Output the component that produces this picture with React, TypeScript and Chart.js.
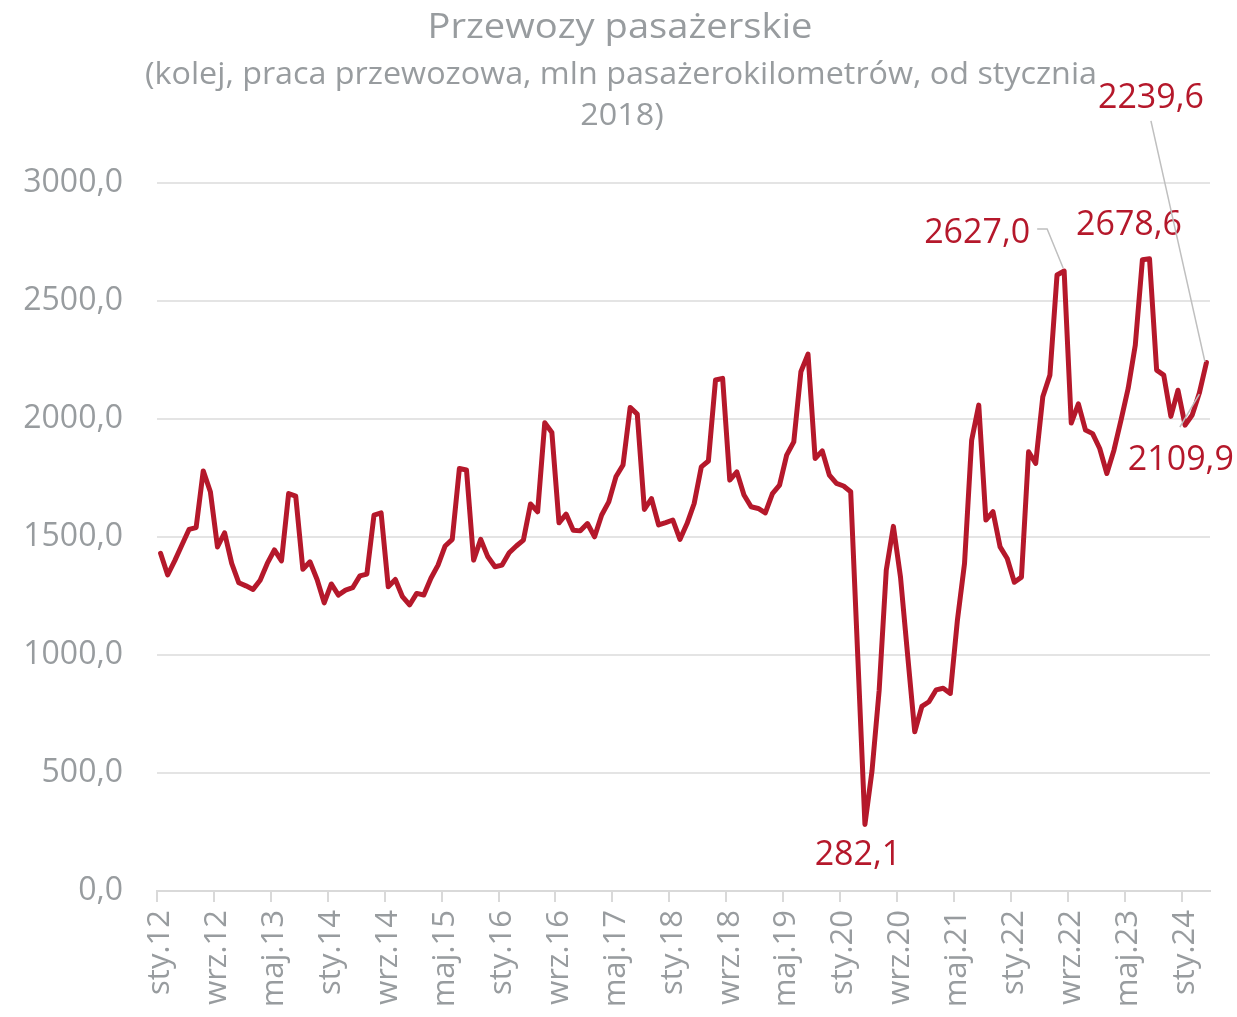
import React, { useEffect, useRef } from "react";
import { Chart, registerables } from "chart.js";

Chart.register(...registerables);

// ---- data ----
const MONTH_ABBR = ["sty", "lut", "mar", "kwi", "maj", "cze", "lip", "sie", "wrz", "paź", "lis", "gru"];
const START_YEAR = 2012;

const v2012 = [1431, 1339, 1400, 1466, 1532, 1540, 1780, 1692, 1458, 1518, 1388, 1306];
const v2013 = [1293, 1278, 1317, 1388, 1445, 1399, 1684, 1673, 1363, 1395, 1320, 1221];
const v2014 = [1301, 1254, 1275, 1285, 1335, 1343, 1593, 1602, 1289, 1320, 1247, 1212];
const v2015 = [1261, 1254, 1325, 1381, 1462, 1490, 1790, 1784, 1402, 1490, 1416, 1374];
const v2016 = [1381, 1433, 1462, 1487, 1640, 1607, 1984, 1943, 1560, 1597, 1529, 1526];
const v2017 = [1557, 1501, 1593, 1649, 1755, 1805, 2049, 2021, 1617, 1663, 1551, 1561];
const v2018 = [1572, 1490, 1557, 1642, 1797, 1822, 2165, 2172, 1741, 1776, 1678, 1628];
const v2019 = [1621, 1602, 1684, 1720, 1847, 1903, 2200, 2275, 1833, 1865, 1762, 1727];
const v2020 = [1716, 1692, 990, 282.1, 510, 850, 1360, 1545, 1330, 1000, 675, 782];
const v2021 = [802, 852, 859, 837, 1148, 1388, 1910, 2059, 1572, 1607, 1458, 1409];
const v2022 = [1308, 1330, 1861, 1812, 2094, 2186, 2610, 2627.0, 1983, 2064, 1953, 1938];
const v2023 = [1875, 1769, 1868, 1996, 2130, 2313, 2675, 2678.6, 2207, 2186, 2011, 2122];
const v2024 = [1974, 2017, 2109.9, 2239.6];

const VALUES = [
  ...v2012, ...v2013, ...v2014, ...v2015, ...v2016, ...v2017, ...v2018,
  ...v2019, ...v2020, ...v2021, ...v2022, ...v2023, ...v2024,
];

const LABELS = VALUES.map((_, i) => {
  const y = START_YEAR + Math.floor(i / 12);
  return `${MONTH_ABBR[i % 12]}.${String(y).slice(2)}`;
});

const LABEL_EVERY = 8;
const Y_TICKS = [0, 500, 1000, 1500, 2000, 2500, 3000];

const TITLE = "Przewozy pasażerskie";
const SUBTITLE_1 = "(kolej, praca przewozowa, mln pasażerokilometrów, od stycznia";
const SUBTITLE_2 = "2018)";

// annotated points (indices into VALUES)
const ANNOTATED = [99, 127, 139, 146, 147];

// ---- styles ----
const RED = "#b5182b";
const GRAY_TEXT = "#989c9f";
const GRID = "#e4e4e4";
const AXIS = "#d9d9d9";
const LEADER = "#bfbfbf";
const FONT = '"Open Sans"';

// label placement relative to the point (styling only)
const ANNOT_STYLE: Record<number, { dx: number; dy: number; leader?: number[][] }> = {
  99: { dx: -7, dy: 28.5 },
  127: { dx: -87, dy: -40, leader: [[-27, -42], [-17, -42], [-1, -3]] },
  139: { dx: -20.5, dy: -36 },
  146: { dx: -18.5, dy: 65, leader: [[-19.5, 34], [0, 1]] },
  147: { dx: -55.5, dy: -266, leader: [[-55.5, -241.5], [-1.5, -0.5]] },
};

const fmt = (v: number) => v.toFixed(1).replace(".", ",");

function drawFitted(ctx: CanvasRenderingContext2D, text: string, cx: number, baseline: number, size: number, sx: number, color: string) {
  ctx.save();
  ctx.font = `${size}px ${FONT}`;
  ctx.translate(cx, baseline);
  ctx.scale(sx, 1);
  ctx.textAlign = "center";
  ctx.textBaseline = "alphabetic";
  ctx.fillStyle = color;
  ctx.fillText(text, 0, 0);
  ctx.restore();
}

const textPlugin = {
  id: "customTexts",
  afterDraw(chart: any) {
    const ctx: CanvasRenderingContext2D = chart.ctx;
    ctx.save();
    // title
    ctx.font = `34px ${FONT}`;
    const tw = ctx.measureText(TITLE).width;
    drawFitted(ctx, TITLE, 620, 38, 34, 385 / tw, GRAY_TEXT);
    ctx.font = `31px ${FONT}`;
    const sw = ctx.measureText(SUBTITLE_1).width;
    const ssx = 952 / sw;
    drawFitted(ctx, SUBTITLE_1, 621, 84, 31, ssx, GRAY_TEXT);
    drawFitted(ctx, SUBTITLE_2, 622, 125, 31, ssx, GRAY_TEXT);

    // data labels
    const meta = chart.getDatasetMeta(0);
    ANNOTATED.forEach((idx) => {
      const pt = meta.data[idx];
      const st = ANNOT_STYLE[idx];
      if (!pt || !st) return;
      const px = pt.x, py = pt.y;
      if (st.leader) {
        ctx.save();
        ctx.strokeStyle = LEADER;
        ctx.lineWidth = 1.5;
        ctx.beginPath();
        st.leader.forEach(([lx, ly], k) => {
          if (k === 0) ctx.moveTo(px + lx, py + ly);
          else ctx.lineTo(px + lx, py + ly);
        });
        ctx.stroke();
        ctx.restore();
      }
      ctx.save();
      ctx.font = `34px ${FONT}`;
      ctx.fillStyle = RED;
      ctx.textAlign = "center";
      ctx.textBaseline = "alphabetic";
      ctx.fillText(fmt(VALUES[idx]), px + st.dx, py + st.dy + 12);
      ctx.restore();
    });
    ctx.restore();
  },
};

export default function App() {
  const ref = useRef<HTMLCanvasElement>(null);

  useEffect(() => {
    if (!ref.current) return;
    const chart = new Chart(ref.current, {
      type: "line",
      data: {
        labels: LABELS,
        datasets: [
          {
            data: VALUES,
            borderColor: RED,
            backgroundColor: RED,
            borderWidth: 5,
            pointRadius: 0,
            tension: 0,
            borderJoinStyle: "round",
            borderCapStyle: "round",
            fill: false,
          },
        ],
      },
      options: {
        responsive: false,
        animation: false,
        devicePixelRatio: 1,
        layout: { padding: { top: 183, right: 27, left: 0, bottom: 0 } },
        plugins: {
          legend: { display: false },
          tooltip: { enabled: false },
          title: { display: false },
        },
        scales: {
          x: {
            type: "category",
            offset: true,
            grid: {
              offset: true,
              drawOnChartArea: false,
              drawTicks: true,
              tickLength: 11,
              lineWidth: 2,
              color: (c: any) => (typeof c.index === "number" && c.index % LABEL_EVERY === 0 ? AXIS : "rgba(0,0,0,0)"),
            },
            border: { display: true, color: AXIS, width: 2 },
            ticks: {
              autoSkip: false,
              minRotation: 90,
              maxRotation: 90,
              padding: 8,
              color: GRAY_TEXT,
              font: { family: "Open Sans", size: 31 },
              callback: (_v: any, i: number) => (i % LABEL_EVERY === 0 ? LABELS[i] : ""),
            },
            afterFit: (s: any) => {
              s.height = 126;
              s.paddingLeft = 0;
              s.paddingRight = 0;
            },
          },
          y: {
            min: Y_TICKS[0],
            max: Y_TICKS[Y_TICKS.length - 1],
            afterBuildTicks: (s: any) => {
              s.ticks = Y_TICKS.map((v) => ({ value: v }));
            },
            grid: { color: GRID, lineWidth: 2, drawTicks: false },
            border: { display: false },
            ticks: {
              padding: 34,
              color: GRAY_TEXT,
              font: { family: "Open Sans", size: 32 },
              callback: (v: any) => fmt(Number(v)),
            },
            afterFit: (s: any) => {
              s.width = 157;
            },
          },
        },
      },
      plugins: [textPlugin],
    });
    return () => chart.destroy();
  }, []);

  return (
    <div style={{ position: "absolute", left: 0, top: 0, width: 1237, height: 1017, background: "#fff" }}>
      <canvas ref={ref} width={1237} height={1017} style={{ display: "block" }} />
    </div>
  );
}
